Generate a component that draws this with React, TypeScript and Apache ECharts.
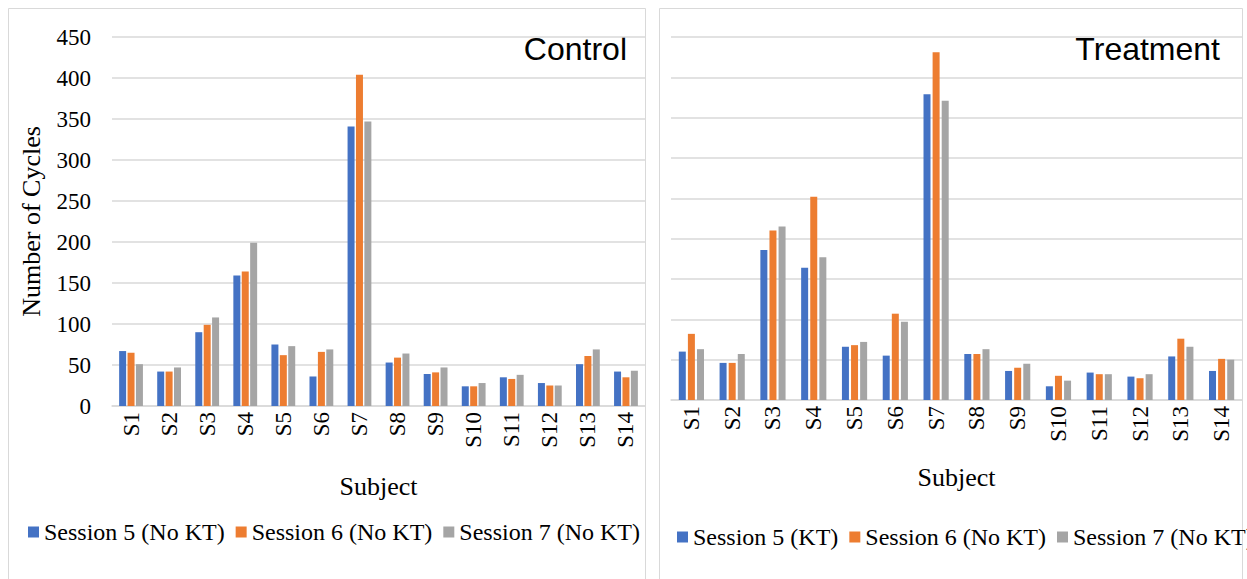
import React, { useEffect, useRef } from "react";
import * as echarts from "echarts";

// Subjects on the x axis
const subjects = ["S1", "S2", "S3", "S4", "S5", "S6", "S7", "S8", "S9", "S10", "S11", "S12", "S13", "S14"];

// Y axis tick range (shared by both panels)
const yMin = 0;
const yMax = 450;
const yStep = 50;

// Control group: number of cycles per session
const controlNames = ["Session 5 (No KT)", "Session 6 (No KT)", "Session 7 (No KT)"];
const controlS5 = [67, 42, 90, 159, 75, 36, 341, 53, 39, 24, 35, 28, 51, 42];
const controlS6 = [65, 42, 99, 164, 62, 66, 404, 59, 41, 24, 33, 25, 61, 35];
const controlS7 = [51, 47, 108, 199, 73, 69, 347, 64, 47, 28, 38, 25, 69, 43];

// Treatment group: number of cycles per session
const treatmentNames = ["Session 5 (KT)", "Session 6 (No KT)", "Session 7 (No KT)"];
const treatmentS5 = [60, 46, 186, 164, 66, 55, 379, 57, 36, 17, 34, 29, 54, 36];
const treatmentS6 = [82, 46, 210, 252, 68, 107, 431, 57, 40, 30, 32, 27, 76, 51];
const treatmentS7 = [63, 57, 215, 177, 72, 97, 371, 63, 45, 24, 32, 32, 66, 50];

const colors = ["#4472C4", "#ED7D31", "#A5A5A5"];
const serif = "'Liberation Serif', 'Times New Roman', serif";
const sans = "'Liberation Sans', Arial, sans-serif";
const gridColor = "#d9d9d9";

export default function App() {
  const ref = useRef<HTMLDivElement>(null);

  useEffect(() => {
    if (!ref.current) return;
    const chart = echarts.init(ref.current, undefined, { renderer: "svg" });

    const xAxisBase = (gridIndex: number, nameGap: number) => ({
      type: "category" as const,
      gridIndex,
      data: subjects,
      name: "Subject",
      nameLocation: "middle" as const,
      nameGap,
      nameTextStyle: { fontFamily: serif, fontSize: 26, color: "#000" },
      axisLine: { show: true, lineStyle: { color: gridColor, width: 1.5 } },
      axisTick: { show: false },
      axisLabel: {
        interval: 0,
        rotate: 90,
        margin: 6,
        fontFamily: serif,
        fontSize: 23,
        color: "#000",
      },
    });

    const yAxisBase = (gridIndex: number, showLabels: boolean) => ({
      type: "value" as const,
      gridIndex,
      min: yMin,
      max: yMax,
      interval: yStep,
      axisLine: { show: false },
      axisTick: { show: false },
      splitLine: { show: true, lineStyle: { color: gridColor, width: 1.5 } },
      axisLabel: {
        show: showLabels,
        margin: 21,
        fontFamily: serif,
        fontSize: 23,
        color: "#000",
      },
    });

    const bar = (name: string, data: number[], idx: number, color: string, gap: string) => ({
      type: "bar" as const,
      name,
      data,
      xAxisIndex: idx,
      yAxisIndex: idx,
      barWidth: 7,
      barGap: gap,
      itemStyle: { color },
    });

    const legendBase = {
      orient: "horizontal" as const,
      icon: "rect",
      itemWidth: 11,
      itemHeight: 11,
      itemGap: 11,
      width: 800,
      textStyle: { fontFamily: serif, fontSize: 24, color: "#000", lineHeight: 24 },
    };

    chart.setOption({
      animation: false,
      backgroundColor: "#ffffff",
      grid: [
        { left: 112, right: 602, top: 37, bottom: 173 },
        { left: 671, right: 5, top: 37, bottom: 179 },
      ],
      xAxis: [xAxisBase(0, 67), xAxisBase(1, 64)],
      yAxis: [
        {
          ...yAxisBase(0, true),
          name: "Number of Cycles",
          nameLocation: "middle",
          nameRotate: 90,
          nameGap: 68,
          nameTextStyle: { fontFamily: serif, fontSize: 26, color: "#000" },
        },
        yAxisBase(1, false),
      ],
      legend: [
        { ...legendBase, data: controlNames, left: 23, top: 515 },
        { ...legendBase, data: treatmentNames, left: 672, top: 520 },
      ],
      series: [
        bar(controlNames[0], controlS5, 0, colors[0], "20%"),
        bar(controlNames[1], controlS6, 0, colors[1], "20%"),
        bar(controlNames[2], controlS7, 0, colors[2], "20%"),
        bar(treatmentNames[0], treatmentS5, 1, colors[0], "30%"),
        bar(treatmentNames[1], treatmentS6, 1, colors[1], "30%"),
        bar(treatmentNames[2], treatmentS7, 1, colors[2], "30%"),
      ],
      graphic: [
        {
          type: "rect",
          silent: true,
          shape: { x: 8.5, y: 8.5, width: 637, height: 620 },
          style: { fill: "none", stroke: gridColor, lineWidth: 1 },
        },
        {
          type: "rect",
          silent: true,
          shape: { x: 659.5, y: 8.5, width: 583, height: 620 },
          style: { fill: "none", stroke: gridColor, lineWidth: 1 },
        },
        {
          type: "text",
          silent: true,
          x: 627,
          y: 49,
          style: {
            text: "Control",
            fontFamily: sans,
            fontSize: 32,
            fill: "#000",
            textAlign: "right",
            textVerticalAlign: "middle",
          },
        },
        {
          type: "text",
          silent: true,
          x: 1220,
          y: 49,
          style: {
            text: "Treatment",
            fontFamily: sans,
            fontSize: 32,
            fill: "#000",
            textAlign: "right",
            textVerticalAlign: "middle",
          },
        },
      ],
    });

    return () => chart.dispose();
  }, []);

  return (
    <div
      ref={ref}
      style={{ position: "fixed", left: 0, top: 0, width: 1247, height: 579, background: "#fff" }}
    />
  );
}
